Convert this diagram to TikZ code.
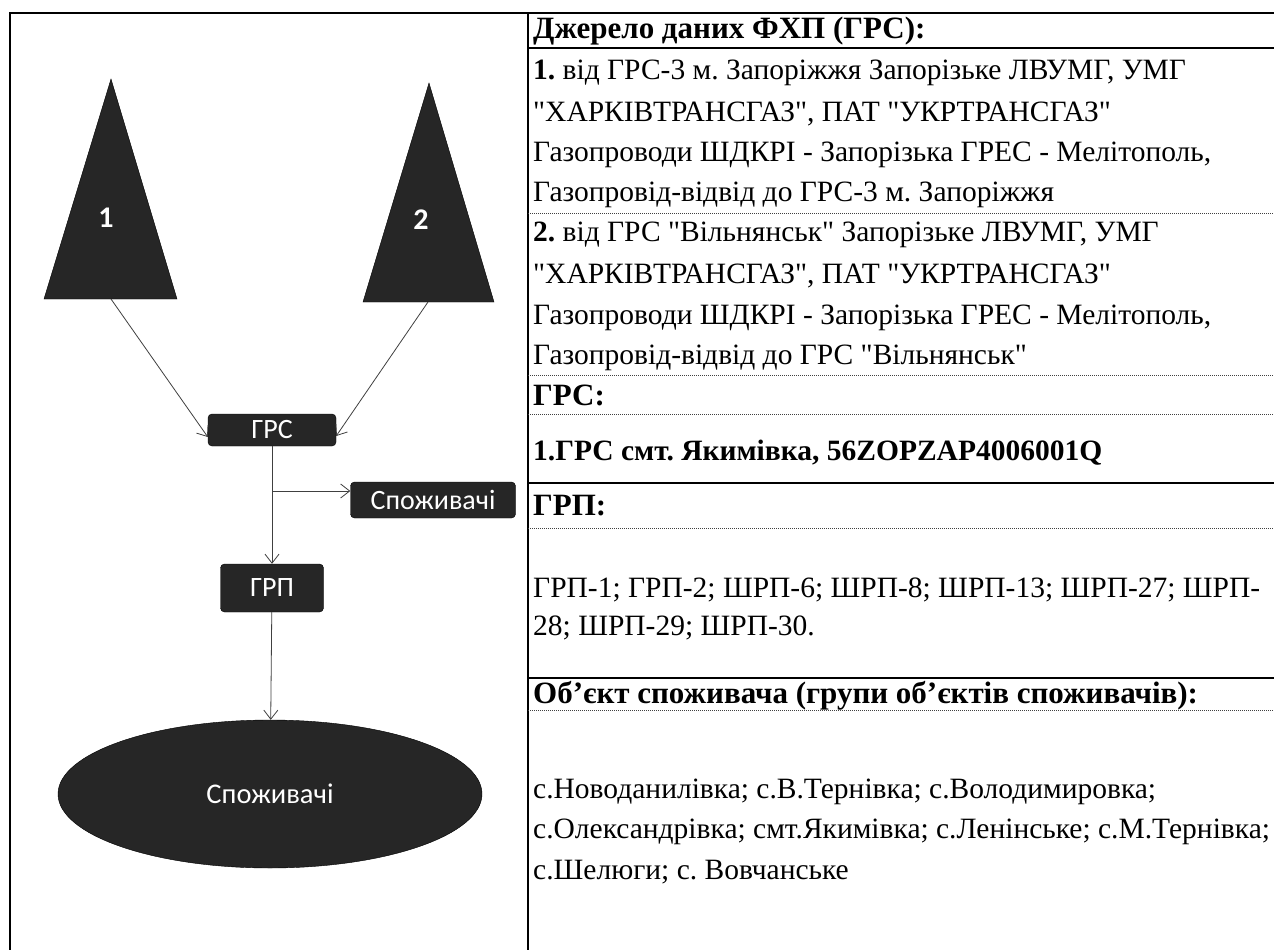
\documentclass[tikz,border=0pt]{standalone}
\usepackage{fontspec}
\setmainfont{Liberation Serif}[Ligatures=TeXOff]
\newfontfamily\labfont{Carlito}
\usetikzlibrary{arrows.meta,shapes.geometric,calc}
\newcommand{\qq}{\symbol{34}}
\newcommand{\hdsize}{\fontsize{31}{34}\selectfont}
\begin{document}
\frenchspacing
\begin{tikzpicture}[x=1pt,y=-1pt,
  frameline/.style={line width=2.5pt,black},
  solidrule/.style={line width=1.3pt,black},
  dotrule/.style={line width=0.9pt,black!75,dash pattern=on 1pt off 1pt},
  darkbox/.style={draw=black,fill=black!85,rounded corners=4pt,text=white,
    font=\labfont\fontsize{28}{32}\selectfont,inner sep=0pt},
  darktri/.style={fill=black!85,draw=black},
  trilabel/.style={text=white,font=\labfont\fontsize{30}{34}\selectfont\bfseries,inner sep=0pt},
  conn/.style={draw=black!75,line width=0.8pt,-{Straight Barb[length=9pt,width=14pt]}},
  txt/.style={anchor=west,inner sep=0pt,font=\fontsize{29.5}{34}\selectfont},
]
\fill[white] (0,0) rectangle (1274,950);
\useasboundingbox (0,0) rectangle (1274,950);

% frame
\draw[frameline] (10,950) -- (10,13) -- (1274,13);
\draw[line width=2pt] (528,13) -- (528,950);

% triangles
\draw[darktri] (111,79) -- (177,299) -- (44,299) -- cycle;
\draw[darktri] (429,83) -- (494,302) -- (363,302) -- cycle;
\coordinate (t1b) at (111,299);
\coordinate (t2b) at (428,302);
\node[trilabel] (t1) at (106,218) {1};
\node[trilabel] (t2) at (421,220) {2};

% boxes
\node[darkbox,minimum width=128pt,minimum height=32pt] (grs) at (272,430) {ГРС};
\node[darkbox,minimum width=165pt,minimum height=36pt] (spz) at (433,500) {Споживачі};
\node[darkbox,minimum width=103pt,minimum height=48pt] (grp) at (272,588) {ГРП};
\node[ellipse,draw=black,fill=black!85,text=white,inner sep=0pt,
  minimum width=424pt,minimum height=148pt,
  font=\labfont\fontsize{28.5}{32}\selectfont] (ell) at (270,794) {Споживачі};

% connectors
\draw[conn] (t1b) -- ([yshift=-7pt]grs.west);
\draw[conn] (t2b) -- ([yshift=-6pt]grs.east);
\draw[conn] (grs) -- (grp);
\coordinate (br) at (272,491);
\draw[conn] (br) -- (br -| spz.west);
\draw[conn] (grp) -- (ell);

% right column rules
\draw[solidrule] (528,48) -- (1274,48);
\draw[dotrule] (528,213) -- (1274,213);
\draw[dotrule] (528,375) -- (1274,375);
\draw[dotrule] (528,414) -- (1274,414);
\draw[solidrule] (528,483) -- (1274,483);
\draw[dotrule] (528,528) -- (1274,528);
\draw[solidrule] (528,678) -- (1274,678);
\draw[dotrule] (528,710) -- (1274,710);

% right column texts
\node[txt] (h1) at (533,31) {\hdsize\textbf{Джерело даних ФХП (ГРС):}};
\node[txt] (a1) at (533,73) {\textbf{1.} від ГРС-3 м. Запоріжжя Запорізьке ЛВУМГ, УМГ};
\node[txt] (a2) at (533,114) {\qq ХАРКІВТРАНСГАЗ\qq, ПАТ \qq УКРТРАНСГАЗ\qq};
\node[txt] (a3) at (533,155) {Газопроводи ШДКРІ - Запорізька ГРЕС - Мелітополь,};
\node[txt] (a4) at (533,195) {Газопровід-відвід до ГРС-3 м. Запоріжжя};
\node[txt] (b1) at (533,235) {\textbf{2.} від ГРС \qq Вільнянськ\qq\ Запорізьке ЛВУМГ, УМГ};
\node[txt] (b2) at (533,276) {\qq ХАРКІВТРАНСГАЗ\qq, ПАТ \qq УКРТРАНСГАЗ\qq};
\node[txt] (b3) at (533,318) {Газопроводи ШДКРІ - Запорізька ГРЕС - Мелітополь,};
\node[txt] (b4) at (533,358) {Газопровід-відвід до ГРС \qq Вільнянськ\qq};
\node[txt] (h2) at (533,395) {\hdsize\textbf{ГРС:}};
\node[txt] (c1) at (533,453) {\textbf{1.ГРС смт. Якимівка, 56ZOPZAP4006001Q}};
\node[txt] (h3) at (533,506) {\hdsize\textbf{ГРП:}};
\node[txt] (d1) at (533,590) {ГРП-1; ГРП-2; ШРП-6; ШРП-8; ШРП-13; ШРП-27; ШРП-};
\node[txt] (d2) at (533,628) {28; ШРП-29; ШРП-30.};
\node[txt] (h4) at (533,696) {\hdsize\textbf{Об’єкт споживача (групи об’єктів споживачів):}};
\node[txt] (e1) at (533,792) {с.Новоданилівка; с.В.Тернівка; с.Володимировка;};
\node[txt] (e2) at (533,832) {с.Олександрівка; смт.Якимівка; с.Ленінське; с.М.Тернівка;};
\node[txt] (e3) at (533,872) {с.Шелюги; с. Вовчанське};
\end{tikzpicture}
\end{document}
